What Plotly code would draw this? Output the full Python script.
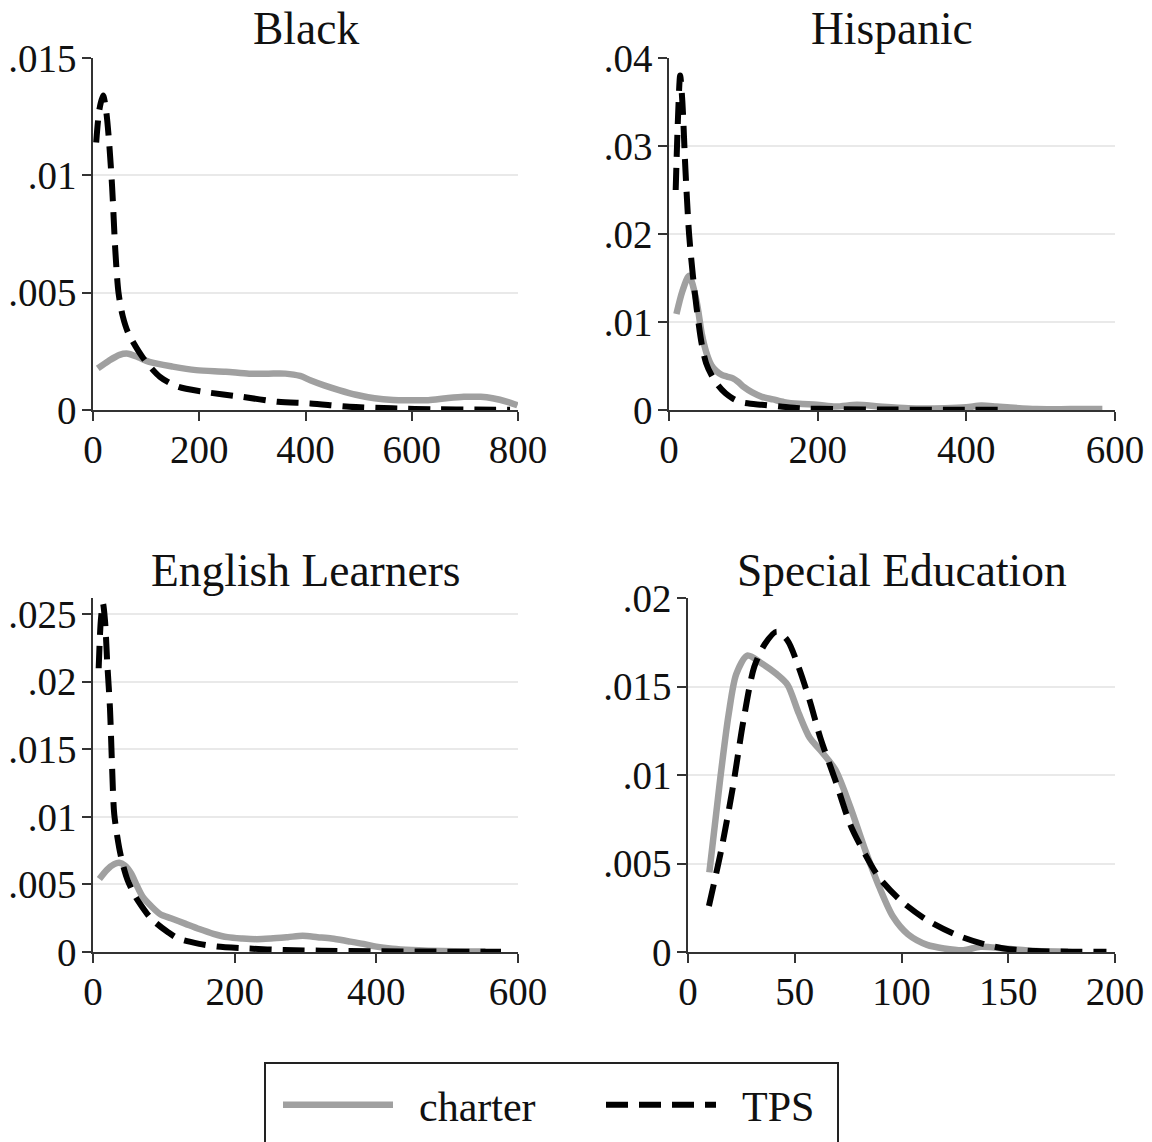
import plotly.graph_objects as go

# ---------------- data ----------------
black_charter_x = [9, 30, 50, 66, 85, 106, 150, 194, 250, 294, 330, 362, 390, 409, 435, 463, 495, 530, 565, 597, 631, 665, 698, 730, 752, 780, 799]
black_charter_y = [0.00177, 0.0021, 0.00235, 0.0024, 0.00225, 0.00205, 0.00185, 0.0017, 0.00163, 0.00155, 0.00155, 0.00155, 0.00145, 0.00127, 0.00105, 0.00085, 0.00065, 0.0005, 0.00043, 0.00042, 0.00042, 0.0005, 0.00056, 0.00056, 0.0005, 0.00035, 0.0002]
black_tps_x = [6, 12, 19, 25, 30, 36, 42, 48, 56, 66, 93, 126, 160, 207, 281, 348, 409, 483, 563, 650, 720, 785]
black_tps_y = [0.0114, 0.0128, 0.0134, 0.0127, 0.0115, 0.0095, 0.0068, 0.0050, 0.0040, 0.0033, 0.00226, 0.00141, 0.00099, 0.00078, 0.00056, 0.00035, 0.00028, 0.00014, 0.00007, 0.00003, 0.00002, 0.00001]

hisp_charter_x = [10, 18, 27, 37, 44, 50, 57, 64, 71, 78, 86, 93, 101, 112, 125, 140, 155, 175, 199, 224, 253, 283, 322, 371, 400, 420, 440, 455, 494, 540, 583]
hisp_charter_y = [0.0109, 0.0135, 0.01525, 0.0124, 0.0087, 0.0066, 0.0051, 0.0044, 0.0040, 0.0038, 0.0036, 0.0032, 0.0026, 0.0020, 0.0015, 0.0012, 0.0009, 0.0007, 0.0006, 0.0004, 0.0006, 0.0004, 0.0002, 0.0002, 0.0003, 0.0005, 0.0004, 0.0003, 0.0001, 0.0001, 0.0001]
hisp_tps_x = [9, 12, 15, 18, 22, 27, 32, 37, 44, 50, 57, 66, 76, 86, 96, 110, 125, 150, 175, 224, 300, 370, 445]
hisp_tps_y = [0.025, 0.033, 0.038, 0.035, 0.0275, 0.020, 0.0154, 0.0117, 0.0075, 0.0053, 0.0040, 0.0028, 0.0019, 0.0013, 0.0009, 0.0007, 0.0006, 0.0004, 0.0002, 0.0001, 0.00005, 0.00003, 0.00002]

el_charter_x = [9, 20, 30, 37, 45, 54, 62, 70, 82, 95, 110, 130, 150, 170, 190, 211, 231, 251, 275, 296, 317, 337, 360, 382, 400, 423, 450, 473, 510, 554]
el_charter_y = [0.0054, 0.0061, 0.0065, 0.0066, 0.0064, 0.0058, 0.0049, 0.0041, 0.0034, 0.0028, 0.0025, 0.0021, 0.0017, 0.00135, 0.0011, 0.001, 0.00095, 0.001, 0.0011, 0.0012, 0.0011, 0.001, 0.0008, 0.0006, 0.0004, 0.00025, 0.00015, 0.0001, 0.00005, 0.00003]
el_tps_x = [8, 11, 14, 17, 20, 24, 27, 30, 37, 43, 49, 60, 70, 80, 90, 105, 120, 150, 175, 221, 270, 322, 400, 480, 576]
el_tps_y = [0.021, 0.0245, 0.0258, 0.0245, 0.0215, 0.018, 0.0136, 0.0102, 0.0077, 0.0063, 0.0053, 0.0041, 0.0033, 0.0026, 0.0021, 0.0015, 0.0010, 0.0006, 0.0004, 0.00025, 0.00015, 0.0001, 0.00005, 0.00003, 0.00002]

sped_charter_x = [10, 15, 19, 22.6, 27.8, 34.6, 41.5, 46.6, 51.8, 57, 62, 69, 76, 82.6, 89.5, 96, 103, 112, 120, 129, 137, 148, 163, 178]
sped_charter_y = [0.0045, 0.0097, 0.0134, 0.0157, 0.01675, 0.0163, 0.0157, 0.0151, 0.0135, 0.0121, 0.0114, 0.0103, 0.0082, 0.0059, 0.0037, 0.0020, 0.0010, 0.0004, 0.0002, 0.0001, 0.0003, 0.0002, 0.00005, 0.00002]
sped_tps_x = [9.8, 15.8, 21, 26, 31, 36, 41.5, 46.6, 51.8, 57, 62, 69, 76, 82.6, 89.5, 99.7, 112, 125, 137, 148, 163, 180, 196]
sped_tps_y = [0.0026, 0.0059, 0.0093, 0.0131, 0.0161, 0.0174, 0.0181, 0.0176, 0.0161, 0.0142, 0.0121, 0.0097, 0.0072, 0.0056, 0.0042, 0.0029, 0.0018, 0.0010, 0.0005, 0.0002, 0.00005, 0.00002, 0.00001]

panel_titles = ["Black", "Hispanic", "English Learners", "Special Education"]
series_names = ["charter", "TPS"]

x_ticks = [[0, 200, 400, 600, 800], [0, 200, 400, 600], [0, 200, 400, 600], [0, 50, 100, 150, 200]]
y_ticks = [[0, 0.005, 0.01, 0.015], [0, 0.01, 0.02, 0.03, 0.04],
           [0, 0.005, 0.01, 0.015, 0.02, 0.025], [0, 0.005, 0.01, 0.015, 0.02]]
y_ticktext = [["0", ".005", ".01", ".015"], ["0", ".01", ".02", ".03", ".04"],
              ["0", ".005", ".01", ".015", ".02", ".025"], ["0", ".005", ".01", ".015", ".02"]]
x_ranges = [[0, 800], [0, 600], [0, 600], [0, 200]]
y_ranges = [[0, 0.015], [0, 0.04], [0, 0.0262], [0, 0.02]]

# ---------------- layout geometry (pixels) ----------------
W, H = 1152, 1142
px_x = [(93, 518), (669, 1115), (93, 518), (688, 1115)]
px_y = [(58, 410), (58, 410), (598, 952), (598, 952)]
title_y = [28, 28, 570, 570]

FONT = "Liberation Serif, Times New Roman, serif"
GRAY = "#a0a0a0"
BLACK = "#000000"
NB = "\u00a0"

fig = go.Figure()

data = [
    (black_charter_x, black_charter_y, black_tps_x, black_tps_y),
    (hisp_charter_x, hisp_charter_y, hisp_tps_x, hisp_tps_y),
    (el_charter_x, el_charter_y, el_tps_x, el_tps_y),
    (sped_charter_x, sped_charter_y, sped_tps_x, sped_tps_y),
]

for i, (cx, cy, tx, ty) in enumerate(data):
    sfx = "" if i == 0 else str(i + 1)
    fig.add_trace(go.Scatter(
        x=cx, y=cy, mode="lines", name=NB * 2 + series_names[0],
        line=dict(color=GRAY, width=6.5, shape="spline", smoothing=0.8),
        xaxis="x" + sfx, yaxis="y" + sfx,
        showlegend=(i == 0), legend="legend",
    ))
    fig.add_trace(go.Scatter(
        x=tx, y=ty, mode="lines", name=NB * 2 + series_names[1],
        line=dict(color=BLACK, width=6, dash="22px,11px", shape="spline", smoothing=0.8),
        xaxis="x" + sfx, yaxis="y" + sfx,
        showlegend=(i == 0), legend="legend2",
    ))

layout = dict(
    width=W, height=H,
    margin=dict(l=0, r=0, t=0, b=0, autoexpand=False),
    paper_bgcolor="white", plot_bgcolor="white",
    font=dict(family=FONT, color="#111111", size=40),
    annotations=[],
    shapes=[],
)

for i in range(4):
    sfx = "" if i == 0 else str(i + 1)
    x0, x1 = px_x[i]
    y0, y1 = px_y[i]
    layout["xaxis" + sfx] = dict(
        domain=[x0 / W, x1 / W], range=x_ranges[i], anchor="y" + sfx,
        tickmode="array", tickvals=x_ticks[i],
        showline=True, linecolor="#333333", linewidth=1.5,
        ticks="outside", ticklen=9, tickwidth=1.5, tickcolor="#333333",
        showgrid=False, zeroline=False, ticklabelstandoff=-5,
        tickfont=dict(family=FONT, size=39, color="#111111"),
    )
    layout["yaxis" + sfx] = dict(
        domain=[1 - y1 / H, 1 - y0 / H], range=y_ranges[i], anchor="x" + sfx,
        tickmode="array", tickvals=y_ticks[i], ticktext=y_ticktext[i],
        showline=True, linecolor="#333333", linewidth=1.5,
        ticks="outside", ticklen=9, tickwidth=1.5, tickcolor="#333333",
        showgrid=True, gridcolor="#e9e9e9", gridwidth=2, zeroline=False,
        ticklabelstandoff=-2,
        tickfont=dict(family=FONT, size=39, color="#111111"),
    )
    layout["annotations"].append(dict(
        text=panel_titles[i], x=(x0 + x1) / 2 / W, y=1 - title_y[i] / H,
        xref="paper", yref="paper", xanchor="center", yanchor="middle",
        showarrow=False, font=dict(family=FONT, size=45.5, color="#111111"),
    ))

# legend frame
layout["shapes"].append(dict(
    type="rect", xref="paper", yref="paper",
    x0=265 / W, x1=838 / W, y0=1 - 1063 / H, y1=-0.05,
    line=dict(color="#222222", width=2), fillcolor="rgba(0,0,0,0)",
))

legend_common = dict(
    orientation="h", itemwidth=110, bgcolor="rgba(0,0,0,0)", borderwidth=0,
    font=dict(family=FONT, size=42, color="#111111"),
    xanchor="left", yanchor="middle", yref="paper", xref="paper",
)
layout["legend"] = dict(legend_common, x=278 / W, y=1 - 1105 / H)
layout["legend2"] = dict(legend_common, x=601 / W, y=1 - 1105 / H)

fig.update_layout(**layout)
fig.write_html("out.html")
